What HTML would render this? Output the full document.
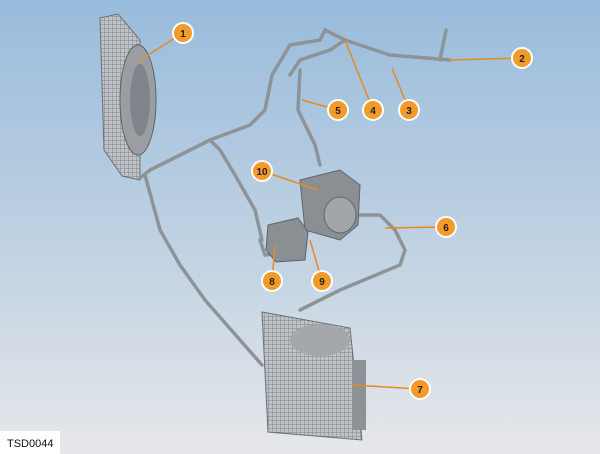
<!DOCTYPE html>
<html><head><style>
html,body{margin:0;padding:0;width:600px;height:454px;overflow:hidden}
svg{display:block}
text{font-family:"Liberation Sans",sans-serif}
</style></head><body>
<svg width="600" height="454" viewBox="0 0 600 454">
<defs>
<linearGradient id="bg" x1="0" y1="0" x2="0" y2="1">
<stop offset="0" stop-color="#98bcdc"/>
<stop offset="0.5" stop-color="#bdd0e2"/>
<stop offset="1" stop-color="#e6e7ea"/>
</linearGradient>
<pattern id="grid" width="4" height="4" patternUnits="userSpaceOnUse">
<rect width="4" height="4" fill="#bfc3c7"/>
<path d="M0 0H4M0 0V4" stroke="#7e8489" stroke-width="1"/>
</pattern>
</defs>
<rect width="600" height="454" fill="url(#bg)"/>
<!-- left radiator/fan -->
<polygon points="100,18 118,14 140,40 140,180 122,176 104,150" fill="url(#grid)" stroke="#6a7075"/>
<ellipse cx="138" cy="100" rx="18" ry="55" fill="#9a9ea3" stroke="#5f656a"/>
<ellipse cx="140" cy="100" rx="10" ry="36" fill="#7f858a"/>
<!-- condenser -->
<polygon points="262,312 350,328 362,440 268,432" fill="url(#grid)" stroke="#6a7075"/>
<ellipse cx="320" cy="340" rx="30" ry="16" fill="#a4a8ac"/>
<rect x="352" y="360" width="14" height="70" fill="#8d9297"/>
<!-- pipes -->
<g fill="none" stroke="#8e9398" stroke-width="3.5" stroke-linecap="round">
<path d="M140 178 L150 170 L210 140 L250 125 L265 110 L272 75 L290 45 L320 40 L325 30 L345 40 L390 55 L450 60"/>
<path d="M145 175 L160 230 L180 265 L205 300 L240 340 L262 365"/>
<path d="M210 140 L220 150 L235 175 L255 210 L262 240"/>
<path d="M290 75 L300 60 L330 50 L345 40"/>
<path d="M300 70 L298 110 L315 145 L320 165"/>
<path d="M350 215 L380 215 L395 230 L405 250 L400 265 L340 290 L300 310"/>
<path d="M260 240 L265 255 L300 250"/>
<path d="M440 60 L446 30"/>
</g>
<!-- compressor -->
<path d="M300 180 L340 170 L360 185 L358 225 L340 240 L305 230 Z" fill="#8a8f94" stroke="#5f656a"/>
<ellipse cx="340" cy="215" rx="16" ry="18" fill="#a2a6aa" stroke="#5f656a"/>
<!-- valve block -->
<path d="M268 225 L298 218 L308 232 L305 260 L276 262 L266 250 Z" fill="#8a8f94" stroke="#5f656a"/>
<!-- leaders -->
<g stroke="#e88a1e" stroke-width="1.5">
<line x1="183" y1="33" x2="140" y2="60"/>
<line x1="522" y1="58" x2="450" y2="60"/>
<line x1="409" y1="110" x2="392" y2="68"/>
<line x1="373" y1="110" x2="345" y2="40"/>
<line x1="338" y1="110" x2="302" y2="100"/>
<line x1="446" y1="227" x2="385" y2="228"/>
<line x1="420" y1="389" x2="352" y2="385"/>
<line x1="272" y1="281" x2="275" y2="245"/>
<line x1="322" y1="281" x2="310" y2="240"/>
<line x1="262" y1="171" x2="318" y2="190"/>
</g>
<g stroke="#fff" stroke-width="2" fill="#f39a2a">
<circle cx="183" cy="33" r="10"/><circle cx="522" cy="58" r="10"/>
<circle cx="409" cy="110" r="10"/><circle cx="373" cy="110" r="10"/>
<circle cx="338" cy="110" r="10"/><circle cx="446" cy="227" r="10"/>
<circle cx="420" cy="389" r="10"/><circle cx="272" cy="281" r="10"/>
<circle cx="322" cy="281" r="10"/><circle cx="262" cy="171" r="10"/>
</g>
<g font-size="10" font-weight="bold" fill="#222" text-anchor="middle">
<text x="183" y="37">1</text><text x="522" y="62">2</text>
<text x="409" y="114">3</text><text x="373" y="114">4</text>
<text x="338" y="114">5</text><text x="446" y="231">6</text>
<text x="420" y="393">7</text><text x="272" y="285">8</text>
<text x="322" y="285">9</text><text x="262" y="175">10</text>
</g>
<rect x="0" y="431" width="60" height="23" fill="#fff"/>
<text x="7" y="447" font-size="11" fill="#111">TSD0044</text>
</svg>
</body></html>
